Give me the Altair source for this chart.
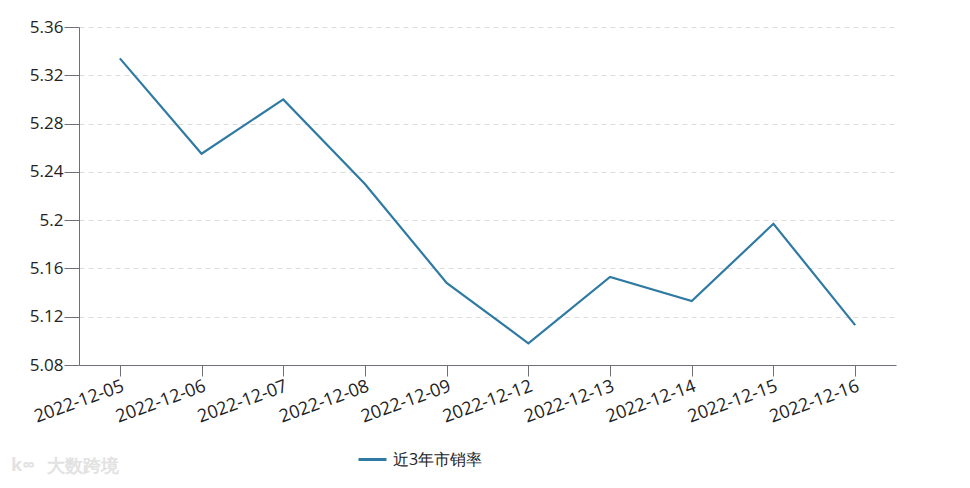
import altair as alt
import pandas as pd

dates = ["2022-12-05", "2022-12-06", "2022-12-07", "2022-12-08", "2022-12-09",
         "2022-12-12", "2022-12-13", "2022-12-14", "2022-12-15", "2022-12-16"]
values = [5.334, 5.255, 5.300, 5.230, 5.148, 5.098, 5.153, 5.133, 5.197, 5.113]
series_name = "近3年市销率"
y_ticks = [5.08, 5.12, 5.16, 5.20, 5.24, 5.28, 5.32, 5.36]
watermark = "大数跨境"
watermark_logo = "k∞"

df = pd.DataFrame({"date": dates, "value": values, "series": series_name})

FONT = "Open Sans"
LINE = "#2f7aa3"
AXIS = "#6e7079"

line = alt.Chart(df).mark_line(strokeWidth=2.2, color=LINE).encode(
    x=alt.X("date:N", sort=dates, title=None,
            scale=alt.Scale(paddingInner=0, paddingOuter=0),
            axis=alt.Axis(labelAngle=-20, labelAlign="right", labelBaseline="top",
                          labelFontSize=18, labelColor="#222", labelFont=FONT,
                          domainColor=AXIS, tickColor=AXIS, tickSize=11,
                          labelPadding=1, grid=False, labelOverlap=False)),
    y=alt.Y("value:Q", title=None,
            scale=alt.Scale(domain=[5.08, 5.36], nice=False, zero=False),
            axis=alt.Axis(values=y_ticks, format="~g", labelFontSize=17,
                          labelColor="#222", labelFont=FONT, domainColor=AXIS,
                          tickColor=AXIS, tickSize=15, labelPadding=1,
                          gridColor="#dddddd", gridDash=[5, 4], gridWidth=1)),
    color=alt.Color("series:N", scale=alt.Scale(range=[LINE]),
                    legend=alt.Legend(title=None, orient="none", legendX=278, legendY=417,
                                      symbolType="stroke", symbolStrokeWidth=3,
                                      symbolSize=784, labelFontSize=16, labelOffset=5,
                                      labelFont=FONT, labelColor="#222")),
)

wm = alt.Chart(pd.DataFrame({"t": [watermark]})).mark_text(
    align="left", baseline="middle", fontSize=18, font=FONT, fontWeight="bold",
    color="#e2e2e2"
).encode(x=alt.value(-32), y=alt.value(440), text="t:N")

logo = alt.Chart(pd.DataFrame({"t": [watermark_logo]})).mark_text(
    align="left", baseline="middle", fontSize=18, font=FONT, fontWeight="bold",
    color="#e2e2e2"
).encode(x=alt.value(-68), y=alt.value(439), text="t:N")

chart = alt.layer(line, wm, logo).properties(
    width=817, height=338,
    padding={"left": 71, "top": 19, "right": 60, "bottom": 113},
    autosize=alt.AutoSizeParams(type="none"),
).configure(font=FONT, view=alt.ViewConfig(stroke="transparent"))

chart.save("out.html", embed_options={"renderer": "svg", "actions": False})
